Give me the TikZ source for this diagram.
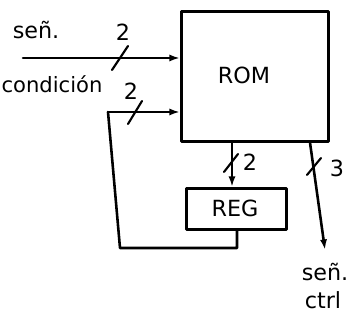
\documentclass[tikz,border=0pt]{standalone}
\usepackage{fontspec}
\setmainfont{DejaVu Sans}
\usetikzlibrary{arrows.meta}
\begin{document}
\begin{tikzpicture}[x=0.03cm,y=-0.03cm,
  line/.style={line width=2.2pt,line cap=round,line join=round},
  arr/.style={line,-{Latex[length=9pt,width=6pt]}},
  bus/.style={line width=1.8pt,line cap=round},
  lbl/.style={font=\fontsize{19}{22}\selectfont,inner sep=1pt}]
\useasboundingbox (0,0) rectangle (354,321);
\node[line,draw,minimum width=147*0.03cm,minimum height=130*0.03cm,anchor=north west,inner sep=0pt] (rom) at (180,10) {};
\node[lbl] at (244,75) {ROM};
\node[line,draw,minimum width=100*0.03cm,minimum height=41*0.03cm,anchor=north west,inner sep=0pt] (reg) at (185,187) {};
\node[lbl] at (235,208) {REG};
% input
\coordinate (in1) at (23,58);
\draw[arr] (in1) -- (rom.west |- in1);
\draw[bus] (112,70) -- (128,46);
\node[lbl] at (123,32) {2};
\node[lbl] at (36,30) {señ.};
\node[lbl,font=\fontsize{18}{22}\selectfont] at (52,84) {condición};
% feedback
\coordinate (fb) at (108,112);
\coordinate (fbb) at (120,248);
\draw[arr] (fb) -- (rom.west |- fb);
\draw[bus] (128,124) -- (142,101);
\node[lbl] at (131,91) {2};
\draw[line] (fb) -- (fbb) -- (237,248) -- (reg.south -| 237,0);
% ROM to REG
\draw[arr] (rom.south -| 232,0) -- (reg.north -| 232,0);
\draw[bus] (224,172) -- (238,154);
\node[lbl] at (250,162) {2};
% output
\coordinate (oe) at (325,250);
\draw[arr] (rom.south -| 310,0) -- (oe);
\draw[bus] (307,175) -- (321,158);
\node[lbl] at (337,168) {3};
\node[lbl] at (325,272) {señ.};
\node[lbl] at (323,300) {ctrl};
\end{tikzpicture}
\end{document}
